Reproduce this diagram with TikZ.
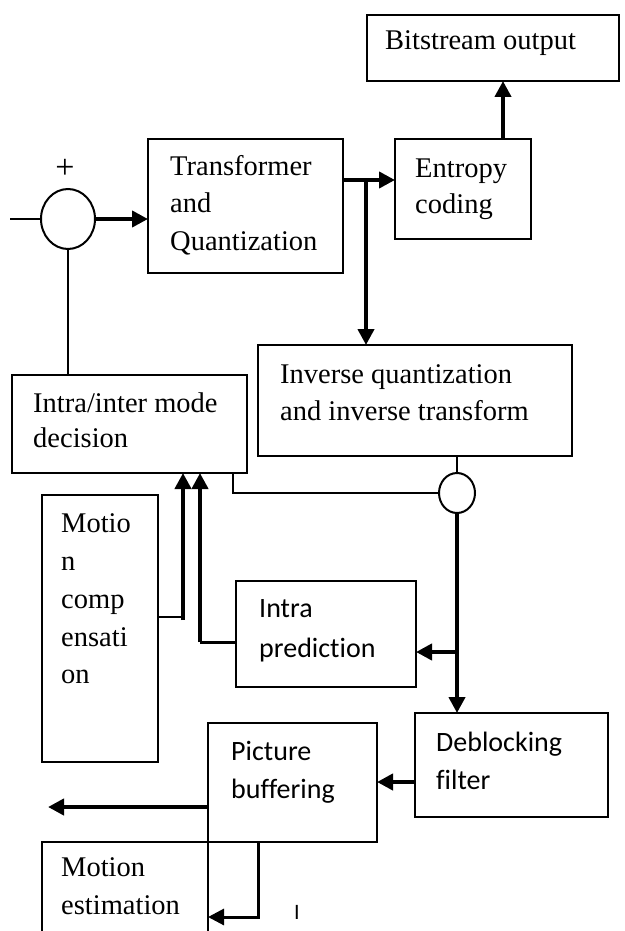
\documentclass[tikz,border=0pt]{standalone}
\usepackage{fontspec}
\setmainfont{Liberation Serif}
\newfontfamily\calfont[Ligatures={NoCommon}]{Carlito}
\usetikzlibrary{arrows.meta,shapes.geometric,calc}
\begin{document}
\begin{tikzpicture}[x=1pt,y=-1pt,
 box/.style={draw, line width=2pt, anchor=north west, inner sep=0pt, outer sep=0pt},
 rt/.style={anchor=base west, inner sep=0pt, font=\fontsize{28.5}{34}\selectfont},
 st/.style={anchor=base west, inner sep=0pt, font=\calfont\fontsize{28}{34}\selectfont},
 thinline/.style={line width=2pt},
 midline/.style={line width=3pt},
 thickline/.style={line width=4.5pt},
 arr/.style={-{Triangle[length=16pt,width=16pt]}},
 junction/.style={draw, ellipse, line width=2pt, inner sep=0pt, outer sep=0pt},
]
\useasboundingbox[fill=white] (0,0) rectangle (624,931);

% boxes
\node[box, minimum width=252pt, minimum height=66pt] (bits) at (367,15) {};
\node[box, minimum width=136pt, minimum height=100pt] (ent) at (395,139) {};
\node[box, minimum width=195pt, minimum height=134pt] (tq) at (148,139) {};
\node[box, minimum width=314pt, minimum height=111pt] (inv) at (258,345) {};
\node[box, minimum width=235pt, minimum height=98pt] (mode) at (12,375) {};
\node[box, minimum width=116pt, minimum height=267pt] (mc) at (42,495) {};
\node[box, minimum width=180pt, minimum height=106pt] (ip) at (236,581) {};
\node[box, minimum width=193pt, minimum height=104pt] (db) at (415,713) {};
\node[box, minimum width=169pt, minimum height=119pt] (pb) at (208,723) {};
\begin{scope}
\clip (0,0) rectangle (624,931);
\node[box, minimum width=166pt, minimum height=110pt] (me) at (42,842) {};
\end{scope}

% junctions
\node[junction, minimum width=54pt, minimum height=60pt] (sum) at (68,219) {};
\node[junction, minimum width=36pt, minimum height=40pt] (sc) at (457,493) {};

% texts
\node[rt] (bitsT) at (385,50) {Bitstream output};
\node[rt] (entT1) at (415,177) {Entropy};
\node[rt] (entT2) at (415,213) {coding};
\node[rt] (tqT1) at (170,175) {Transformer};
\node[rt] (tqT2) at (170,212) {and};
\node[rt] (tqT3) at (170,250) {Quantization};
\node[rt] (invT1) at (280,383) {Inverse quantization};
\node[rt] (invT2) at (280,420) {and inverse transform};
\node[rt] (modeT1) at (33,412) {Intra/inter mode};
\node[rt] (modeT2) at (33,447) {decision};
\node[rt] (mcT1) at (61,532) {Motio};
\node[rt] (mcT2) at (61,570) {n};
\node[rt] (mcT3) at (61,608) {comp};
\node[rt] (mcT4) at (61,646) {ensati};
\node[rt] (mcT5) at (61,683) {on};
\node[st] (ipT1) at (259,617) {Intra};
\node[st] (ipT2) at (259,657) {prediction};
\node[st] (dbT1) at (436,751) {Deblocking};
\node[st] (dbT2) at (436,789) {filter};
\node[st] (pbT1) at (231,760) {Picture};
\node[st] (pbT2) at (231,798) {buffering};
\node[rt] (meT1) at (61,876) {Motion};
\node[rt] (meT2) at (61,914) {estimation};
\node[inner sep=0pt, font=\fontsize{34}{34}\selectfont] (plus) at (65,169) {+};
\node[anchor=base, inner sep=0pt, font=\calfont\fontsize{22}{22}\selectfont] (tick) at (297,919) {I};

% connectors
\coordinate (in) at (10,219);
\draw[thinline] (in) -- (sum.west);
\draw[thickline, arr] (sum.east) -- (sum.east -| tq.west);
\coordinate (tqo) at (343,180);
\draw[thickline, arr] (tqo) -- (tqo -| ent.west);
\coordinate (br) at (366,180);
\draw[thickline, arr] (br) -- (br |- inv.north);
\coordinate (eo) at (503,139);
\draw[thickline, arr] (eo) -- (eo |- bits.south);
\draw[thinline] (sum.south) -- (sum.south |- mode.north);
\draw[thinline] (sc.north) -- (sc.north |- inv.south);
\coordinate (mb) at (233,473);
\draw[thinline] (sc.west) -| (mb);
\draw[thickline, arr] (sc.south) -- (sc.south |- db.north);
\coordinate (ipb) at (457,652);
\draw[thickline, arr] (ipb) -- (ipb -| ip.east);
\coordinate (ipo) at (236,642);
\coordinate (ia) at (200,642);
\draw[midline] (ipo) -- (ia);
\draw[thickline, arr] (ia) -- (ia |- mode.south);
\coordinate (mco) at (158,617);
\coordinate (ma) at (183,617);
\draw[thinline] (mco) -- (ma);
\draw[thickline, arr] ($(ma)+(0,3)$) -- (ma |- mode.south);
\coordinate (dbo) at (415,782);
\draw[thickline, arr] (dbo) -- (dbo -| pb.east);
\coordinate (pbo) at (208,807);
\coordinate (out) at (48,807);
\draw[thickline, arr] (pbo) -- (out);
\coordinate (pbd) at (258,842);
\coordinate (pbc) at (258,917);
\draw[midline, arr] (pbd) -- (pbc) -- (pbc -| me.east);
\end{tikzpicture}
\end{document}
